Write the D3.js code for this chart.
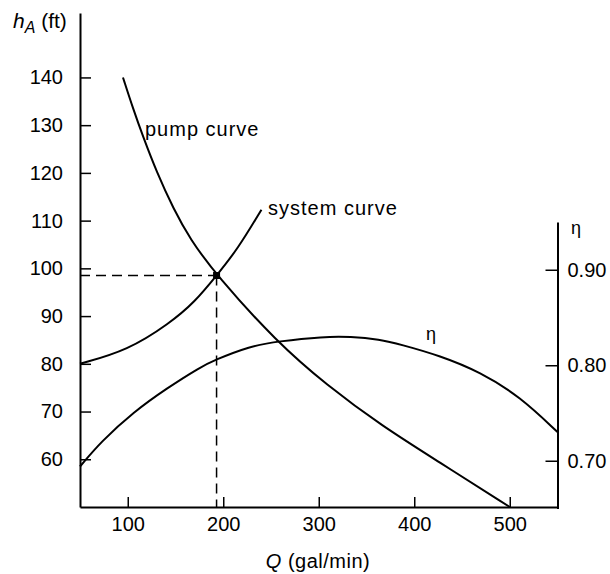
<!DOCTYPE html>
<html>
<head>
<meta charset="utf-8">
<script src="https://cdnjs.cloudflare.com/ajax/libs/d3/7.8.5/d3.min.js"></script>
<style>
    body { margin: 0; background: #fff; }
    svg text { font-family: "Liberation Sans", Arial, Helvetica, sans-serif; fill: #000; }
</style>
</head>
<body>
<div class="chart"></div>
<script>
// pump curve (Q in gal/min, head in ft)
var pumpQ = [95, 106, 116, 130, 148, 165, 193, 256, 308, 366, 427, 500];
var pumpH = [140, 133.2, 127.6, 120.3, 112.4, 106.2, 98.5, 84.6, 75.6, 67, 59.3, 50];

// system curve
var systemQ = [50, 100, 144, 170, 193, 215, 240];
var systemH = [80, 82.8, 88.5, 92.9, 98.5, 104, 112.3];

// efficiency curve
var etaQ = [50, 72, 106, 141, 176, 190, 228, 257, 305, 333, 364, 385, 427, 469, 511, 550];
var etaV = [0.694, 0.720, 0.751, 0.776, 0.798, 0.805, 0.820, 0.825, 0.830, 0.830, 0.827, 0.822, 0.810, 0.793, 0.767, 0.730];

// operating point
var opQ = 193;
var opH = 98.5;

// ticks
var qTicks = [100, 200, 300, 400, 500];
var hTicks = [60, 70, 80, 90, 100, 110, 120, 130, 140];
var etaTicks = [0.70, 0.80, 0.90];

(function () {

    var width = 610,
        height = 574;

    var svg = d3.select('.chart').append('svg')
        .attr('width', width)
        .attr('height', height);

    // scales 
    var x = d3.scaleLinear().domain([50, 550]).range([80, 557.5]);
    var y = d3.scaleLinear().domain([50, 153.5]).range([507, 13]);
    var yEta = d3.scaleLinear().domain([0.65, 0.95]).range([508.5, 222]);

    function zip(a, b) {
        return a.map(function (v, i) { return [v, b[i]]; });
    }

    // axes
    var left = svg.append('g')
        .attr('transform', 'translate(' + x(50) + ',0)')
        .call(d3.axisLeft(y).tickValues(hTicks).tickSize(-11).tickSizeOuter(0).tickPadding(17));

    var bottom = svg.append('g')
        .attr('transform', 'translate(0,' + y(50) + ')')
        .call(d3.axisBottom(x).tickValues(qTicks).tickSize(-10).tickSizeOuter(0).tickPadding(10));

    var right = svg.append('g')
        .attr('transform', 'translate(' + x(550) + ',0)')
        .call(d3.axisRight(yEta).tickValues(etaTicks).tickSize(-12).tickSizeOuter(0).tickPadding(10)
            .tickFormat(d3.format('.2f')));

    [left, bottom, right].forEach(function (g) {
        g.selectAll('path.domain').attr('stroke', '#000').attr('stroke-width', 2);
        g.selectAll('.tick line').attr('stroke', '#000').attr('stroke-width', 1.5);
        g.selectAll('.tick text')
            .style('font-family', '"Liberation Sans", Arial, sans-serif')
            .style('font-size', '20px')
            .attr('fill', '#000');
    });

    // curves - basis keeps the hand drawn look smooth
    var line = d3.line()
        .x(function (d) { return x(d[0]); })
        .y(function (d) { return y(d[1]); })
        .curve(d3.curveBasis);

    var etaLine = d3.line()
        .x(function (d) { return x(d[0]); })
        .y(function (d) { return yEta(d[1]); })
        .curve(d3.curveBasis);

    svg.append('path')
        .attr('d', line(zip(pumpQ, pumpH)))
        .attr('fill', 'none')
        .attr('stroke', '#000')
        .attr('stroke-width', 2);

    svg.append('path')
        .attr('d', line(zip(systemQ, systemH)))
        .attr('fill', 'none')
        .attr('stroke', '#000')
        .attr('stroke-width', 2);

    svg.append('path')
        .attr('d', etaLine(zip(etaQ, etaV)))
        .attr('fill', 'none')
        .attr('stroke', '#000')
        .attr('stroke-width', 2);

    // dashed guides to the operating point
    svg.append('line')
        .attr('x1', x(50))
        .attr('y1', y(opH))
        .attr('x2', x(opQ))
        .attr('y2', y(opH))
        .attr('stroke', '#000')
        .attr('stroke-width', 1.5)
        .attr('stroke-dasharray', '10,6');

    svg.append('line')
        .attr('x1', x(opQ))
        .attr('y1', y(opH))
        .attr('x2', x(opQ))
        .attr('y2', y(50))
        .attr('stroke', '#000')
        .attr('stroke-width', 1.5)
        .attr('stroke-dasharray', '10,6');

    svg.append('rect')
        .attr('x', x(opQ) - 3.5)
        .attr('y', y(opH) - 3.5)
        .attr('width', 7)
        .attr('height', 7)
        .attr('fill', '#000');

    // labels 
    var hLabel = svg.append('text')
        .attr('x', 13)
        .attr('y', 28)
        .style('font-size', '21px');
    hLabel.append('tspan').style('font-style', 'italic').text('h');
    hLabel.append('tspan').attr('dy', 5).style('font-style', 'italic').style('font-size', '16px').text('A');
    hLabel.append('tspan').attr('dy', -5).text(' (ft)');

    var qLabel = svg.append('text')
        .attr('x', 318)
        .attr('y', 568)
        .attr('text-anchor', 'middle')
        .style('font-size', '20px')
        .style('letter-spacing', '0.5px');
    qLabel.append('tspan').style('font-style', 'italic').text('Q');
    qLabel.append('tspan').text(' (gal/min)');

    svg.append('text')
        .attr('x', 145)
        .attr('y', 136)
        .style('font-size', '20px')
        .style('letter-spacing', '1px')
        .text('pump curve');

    svg.append('text')
        .attr('x', 268)
        .attr('y', 215)
        .style('font-size', '20px')
        .style('letter-spacing', '1px')
        .text('system curve');

    svg.append('text')
        .attr('x', 426)
        .attr('y', 340)
        .style('font-size', '18px')
        .text('η');

    svg.append('text')
        .attr('x', 571)
        .attr('y', 234)
        .style('font-size', '18px')
        .text('η');

}());
</script>
</body>
</html>
